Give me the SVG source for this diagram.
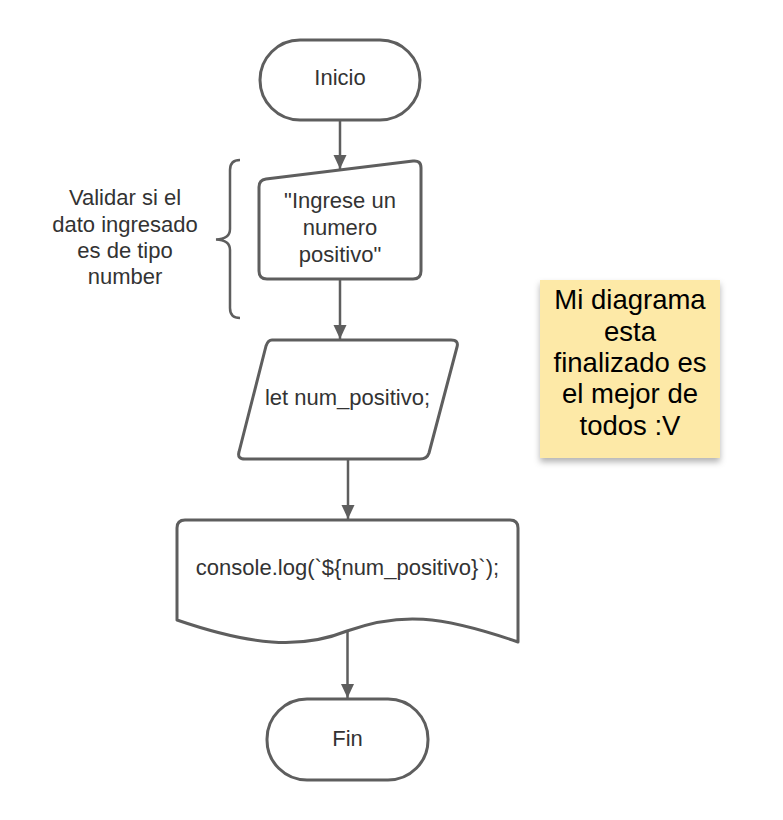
<svg xmlns="http://www.w3.org/2000/svg" width="783" height="820" viewBox="0 0 783 820">
<style>
.shape{fill:#ffffff;stroke:#5e5e5e;stroke-width:3;stroke-linejoin:round}
.conn{fill:none;stroke:#5e5e5e;stroke-width:2.5}
.t{font-family:"Liberation Sans",Arial,sans-serif;font-size:22px;fill:#333333;text-anchor:middle}
.note{font-family:"Liberation Sans",Arial,sans-serif;font-size:27.5px;fill:#000000;text-anchor:middle}
</style>
<defs>
<marker id="ah" markerUnits="userSpaceOnUse" markerWidth="15" markerHeight="15" viewBox="0 0 15 15" refX="14" refY="7.5" orient="auto">
<path d="M0,1 L14,7.5 L0,14 Z" fill="#5e5e5e"/>
</marker>
<filter id="sh" x="-10%" y="-10%" width="120%" height="130%">
<feDropShadow dx="0" dy="4" stdDeviation="3" flood-color="#000000" flood-opacity="0.3"/>
</filter>
</defs>
<rect width="783" height="820" fill="#ffffff"/>
<g id="connectors">
<line class="conn" x1="340" y1="120" x2="340" y2="169" marker-end="url(#ah)"/>
<line class="conn" x1="340" y1="279" x2="340" y2="339" marker-end="url(#ah)"/>
<line class="conn" x1="348" y1="460" x2="348" y2="519" marker-end="url(#ah)"/>
<line class="conn" x1="347.5" y1="631" x2="347.5" y2="698" marker-end="url(#ah)"/>
</g>
<g id="inicio">
<rect class="shape" x="260" y="40" width="160" height="80" rx="40" ry="40"/>
<text class="t" x="340" y="85">Inicio</text>
</g>
<g id="entrada">
<path class="shape" d="M266,179 L413,161 Q421,160 421,168 L421,271 Q421,279 413,279 L267,279 Q259,279 259,271 L259,187 Q259,180 266,179 Z"/>
<text class="t" x="340" y="208">"Ingrese un</text>
<text class="t" x="340" y="235">numero</text>
<text class="t" x="340" y="262">positivo"</text>
</g>
<g id="nota-validar">
<path fill="none" stroke="#5e5e5e" stroke-width="2.5" d="M240,160 Q230,160 230,170 L230,229 Q230,239 216,239.5 Q230,240 230,250 L230,308 Q230,318 240,318"/>
<text class="t" x="125" y="205">Validar si el</text>
<text class="t" x="125" y="231.5">dato ingresado</text>
<text class="t" x="125" y="258">es de tipo</text>
<text class="t" x="125" y="284">number</text>
</g>
<g id="declaracion">
<path class="shape" d="M272,340 L451,340 Q459,340 457,347 L429,453 Q427,459 420,459 L245,459 Q237,459 239,452 L266,346 Q268,340 272,340 Z"/>
<text class="t" x="347.5" y="405">let num_positivo;</text>
</g>
<g id="salida">
<path class="shape" d="M185,520 L510,520 Q518,520 518,528 L518,642 C440,615 400,612 347,631 C300,650 250,645 177,620 L177,528 Q177,520 185,520 Z"/>
<text class="t" x="347.5" y="575">console.log(`${num_positivo}`);</text>
</g>
<g id="fin">
<rect class="shape" x="267" y="699" width="161" height="81" rx="40" ry="40"/>
<text class="t" x="347.5" y="746">Fin</text>
</g>
<g id="sticky">
<rect x="540" y="280" width="180" height="178" fill="#fde9a7" filter="url(#sh)"/>
<text class="note" x="630" y="309">Mi diagrama</text>
<text class="note" x="630" y="341">esta</text>
<text class="note" x="630" y="372">finalizado es</text>
<text class="note" x="630" y="403">el mejor de</text>
<text class="note" x="630" y="435">todos :V</text>
</g>
</svg>
